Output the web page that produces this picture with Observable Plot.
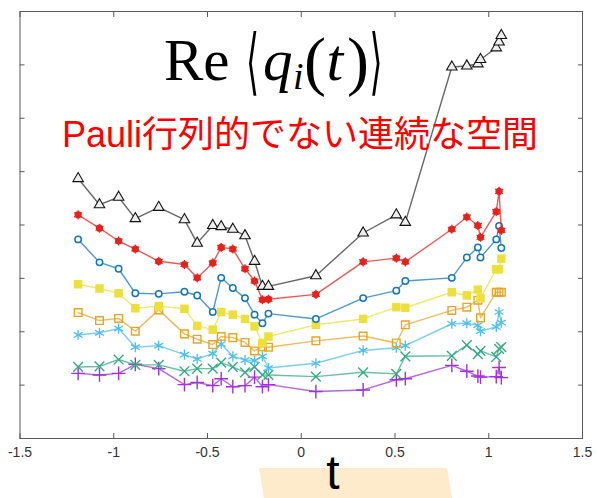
<!DOCTYPE html>
<html>
<head>
<meta charset="utf-8">
<script src="https://cdn.jsdelivr.net/npm/d3@7"></script>
<script src="https://cdn.jsdelivr.net/npm/@observablehq/plot@0.6"></script>
<style>
  body { margin: 0; background: #fff; }
  #wrap { position: relative; width: 597px; height: 498px; overflow: hidden; background: #fff; }
  #overlay { position: absolute; left: 0; top: 0; pointer-events: none; }
</style>
</head>
<body>
<div id="wrap"></div>
<script>
// ---- data ----
const T = [-1.19,-1.076,-0.974,-0.885,-0.76,-0.623,-0.555,-0.472,-0.427,-0.365,-0.30,-0.249,-0.207,-0.175,0.078,0.33,0.507,0.555,0.803,0.883,0.942,0.956,1.04,1.055,1.067];
const black  = [4.87,4.38,4.52,4.12,4.33,4.10,3.66,3.99,3.97,3.92,3.80,3.32,2.85,2.85,3.05,3.85,4.19,4.05,6.96,6.98,7.02,7.10,7.32,7.43,7.55];
const red    = [4.19,3.94,3.70,3.55,3.32,3.26,3.01,3.29,3.58,3.55,3.18,2.95,2.60,2.61,2.70,3.31,3.38,3.31,3.92,4.15,3.99,3.77,4.25,4.63,3.90];
const blue   = [3.73,3.30,3.18,2.72,2.71,2.75,2.68,2.37,3.01,2.82,2.63,2.32,2.16,2.34,2.24,2.63,2.77,2.95,3.01,3.39,3.58,3.39,3.73,3.98,3.57];
const yellow = [2.89,2.81,2.72,2.44,2.48,2.43,2.11,2.04,2.37,2.32,2.24,2.10,1.79,1.91,2.13,2.24,2.46,2.45,2.74,2.68,2.79,2.63,3.17,3.17,3.37];
const orange = [2.36,2.21,2.25,2.01,2.41,1.96,1.86,1.76,1.91,1.89,1.80,1.64,1.72,1.71,1.83,1.92,1.79,2.13,2.40,2.46,2.59,2.26,2.74,2.74,2.74];
const lightblue = [1.94,1.98,2.06,1.71,1.74,1.57,1.49,1.59,1.77,1.54,1.47,1.46,1.54,1.32,1.41,1.65,1.70,1.74,2.15,2.16,2.12,2.01,2.09,2.37,2.17];
const green  = [1.34,1.35,1.48,1.38,1.38,1.26,1.31,1.31,1.42,1.34,1.24,1.34,1.19,1.19,1.16,1.24,1.21,1.54,1.55,1.75,1.58,1.64,1.53,1.68,1.71];
const purple = [1.22,1.19,1.22,1.39,1.31,1.01,1.05,0.99,1.12,0.97,0.99,1.15,0.97,1.01,0.88,0.91,1.10,1.12,1.37,1.26,1.17,1.15,1.16,1.33,1.14];
const xTicks = [-1.5,-1,-0.5,0,0.5,1,1.5];
const xTickLabels = ["-1.5","-1","-0.5","0","0.5","1","1.5"];
const yTicks = [0,1,2,3,4,5,6,7,8];

// ---- styles per series ----
const series = [
  {v: purple,    color: "#a22fe0", symbol: "plus",     fill: "none", r: 4.5, sw: 1.4},
  {v: green,     color: "#35ab84", symbol: "times",    fill: "none", r: 4.5, sw: 1.4},
  {v: lightblue, color: "#4dbeee", symbol: "asterisk", fill: "none", r: 4.8, sw: 1.3},
  {v: orange,    color: "#eaa424", symbol: "square",   fill: "none", r: 4.3, sw: 1.4},
  {v: yellow,    color: "#eee03c", symbol: "square",   fill: "#eee03c", r: 4.8, sw: 1},
  {v: blue,      color: "#1376bb", symbol: "circle",   fill: "none", r: 3.2, sw: 1.5},
  {v: red,       color: "#e5231d", symbol: "circle",   fill: "#e5231d", r: 3.6, sw: 1},
  {v: black,     color: "#333333", symbol: "triangle", fill: "#eeeeee", r: 3.9, sw: 1.1}
];

const marks = [];
series.forEach((s) => {
  const rows = T.map((t, j) => ({t, v: s.v[j]}));
  marks.push(Plot.line(rows, {x: "t", y: "v", stroke: s.color, strokeWidth: 1.4, strokeOpacity: 0.75}));
  if (s.symbol === "circle" && s.fill !== "none") {
    marks.push(Plot.dot(rows, {x: "t", y: "v", symbol: "circle", r: s.r, fill: s.fill}));
    marks.push(Plot.dot(rows, {x: "t", y: "v", symbol: "asterisk", r: 4.3, stroke: s.color, strokeWidth: 1.2}));
  } else if (s.fill === "none") {
    marks.push(Plot.dot(rows, {x: "t", y: "v", symbol: s.symbol, r: s.r, stroke: s.color, strokeWidth: s.sw, fill: s.symbol === "circle" ? "white" : "none"}));
  } else {
    marks.push(Plot.dot(rows, {x: "t", y: "v", symbol: s.symbol, r: s.r, fill: s.fill, stroke: s.symbol === "triangle" ? "#111" : "none", strokeWidth: s.sw}));
  }
});

const chart = Plot.plot({
  width: 597,
  height: 498,
  marginLeft: 19.5,
  marginRight: 15,
  marginTop: 11,
  marginBottom: 60,
  style: {fontFamily: "'Liberation Sans', Arial, sans-serif", fontSize: "14px", color: "#333", background: "white"},
  x: {domain: [-1.5, 1.5]},
  y: {domain: [0, 8]},
  marks: [
    ...marks,
    Plot.frame({stroke: "#5a5a5a", strokeWidth: 1}),
    Plot.axisX({anchor: "bottom", ticks: xTicks, tickSize: -5, tickFormat: () => "", label: null, stroke: "#5a5a5a"}),
    Plot.axisX({anchor: "top", ticks: xTicks, tickSize: -5, tickFormat: () => "", label: null, stroke: "#5a5a5a"}),
    Plot.axisX({anchor: "bottom", ticks: xTicks, tickSize: 0, tickPadding: 9, fontSize: 14, tickFormat: (d) => xTickLabels[xTicks.indexOf(d)], label: null, fill: "#333"}),
    Plot.axisY({anchor: "left", ticks: yTicks, tickSize: -5, tickFormat: () => "", label: null, stroke: "#5a5a5a"}),
    Plot.axisY({anchor: "right", ticks: yTicks, tickSize: -5, tickFormat: () => "", label: null, stroke: "#5a5a5a"})
  ]
});

const wrap = document.getElementById("wrap");
wrap.appendChild(chart);

// ---- overlay texts ----
const ns = "http://www.w3.org/2000/svg";
const ov = document.createElementNS(ns, "svg");
ov.setAttribute("id", "overlay");
ov.setAttribute("width", 597);
ov.setAttribute("height", 498);
ov.innerHTML = `
  <polygon points="259,468 447,468 452,498 264,498" fill="#fdebcb"/>
  <text x="333" y="489" text-anchor="middle" font-family="'Liberation Sans', Arial, sans-serif" font-size="48" fill="#000">t</text>
  <text x="62" y="147" font-family="'Liberation Sans', 'Noto Sans CJK JP', sans-serif" font-size="36" fill="#ff0000">Pauli<tspan font-family="'Noto Sans CJK JP', sans-serif">行列的でない連続な空間</tspan></text>
`;
wrap.appendChild(ov);

// title pieces laid out one after another (measured so they do not collide)
const serif = "'Liberation Serif', 'DejaVu Serif', serif";
const pieces = [
  {s: "Re", x: 164, y: 80, size: 59, font: serif},
  {s: "⟨", x: 246, y: 86, size: 54, font: "'DejaVu Serif', serif", sx: 0.62, sy: 1.35},
  {s: "q", x: 263, y: 80, size: 59, font: serif, italic: true},
  {s: "i", x: 289, y: 89, size: 38, font: serif, italic: true},
  {s: "(", x: 299, y: 83, size: 66, font: serif},
  {s: "t", x: 321, y: 80, size: 60, font: serif, italic: true},
  {s: ")", x: 347, y: 83, size: 66, font: serif},
  {s: "⟩", x: 363, y: 86, size: 54, font: "'DejaVu Serif', serif", sx: 0.62, sy: 1.35}
];
let right = 0;
pieces.forEach(p => {
  const el = document.createElementNS(ns, "text");
  el.textContent = p.s;
  el.setAttribute("font-family", p.font);
  el.setAttribute("font-size", p.size);
  el.setAttribute("fill", "#000");
  if (p.italic) el.setAttribute("font-style", "italic");
  ov.appendChild(el);
  const sx = p.sx || 1, sy = p.sy || 1;
  const w = el.getComputedTextLength() * sx;
  const x = Math.max(p.x, right + 0.5);
  el.setAttribute("transform", `translate(${x},${p.y}) scale(${sx},${sy})`);
  right = x + w;
});
</script>
</body>
</html>
